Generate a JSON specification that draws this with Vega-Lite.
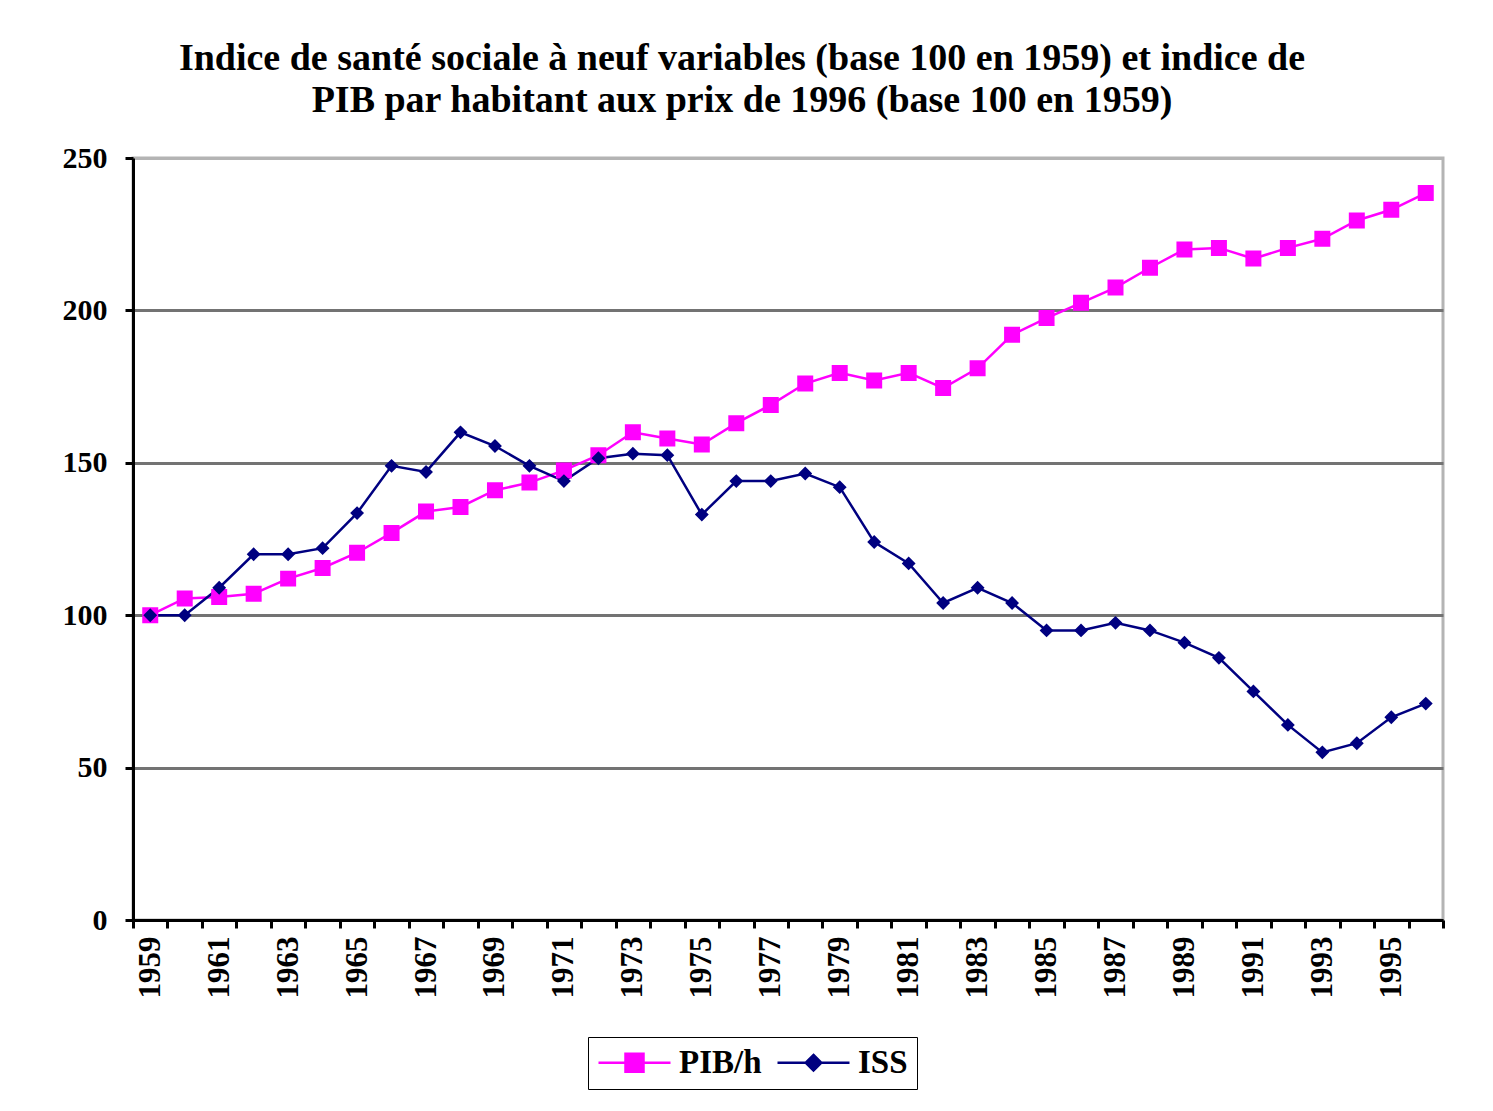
{
  "$schema": "https://vega.github.io/schema/vega-lite/v6.json",
  "width": 1310,
  "height": 762,
  "autosize": {"type": "none"},
  "padding": {"left": 133, "top": 158, "right": 50, "bottom": 191},
  "background": "white",
  "title": {
    "text": ["Indice de santé sociale à neuf variables (base 100 en 1959) et indice de", "PIB par habitant aux prix de 1996 (base 100 en 1959)"],
    "font": "Liberation Serif",
    "fontSize": 38,
    "fontWeight": "bold",
    "color": "black",
    "lineHeight": 42,
    "anchor": "middle",
    "baseline": "bottom",
    "offset": 40,
    "dx": -46,
    "dy": 55
  },
  "config": {
    "view": {"stroke": "#b4b4b4", "strokeWidth": 3},
    "axis": {
      "labelFont": "Liberation Serif",
      "labelFontWeight": "bold",
      "labelColor": "black",
      "domainColor": "black",
      "domainWidth": 3,
      "tickColor": "black",
      "tickWidth": 3,
      "tickSize": 8
    },
    "legend": {
      "orient": "none",
      "legendX": 455,
      "legendY": 879,
      "direction": "horizontal",
      "strokeColor": "black",
      "padding": 9,
      "labelFont": "Liberation Serif",
      "labelFontSize": 33,
      "labelFontWeight": "bold",
      "labelColor": "black",
      "labelOffset": 28,
      "columnPadding": 10,
      "symbolSize": 900,
      "symbolOffset": 21,
      "symbolOpacity": 1,
      "symbolStrokeWidth": 2.5
    }
  },
  "data": {"values": [
    {"year": 1959, "series": "PIB/h", "value": 100},
    {"year": 1960, "series": "PIB/h", "value": 105.5},
    {"year": 1961, "series": "PIB/h", "value": 106},
    {"year": 1962, "series": "PIB/h", "value": 107},
    {"year": 1963, "series": "PIB/h", "value": 112},
    {"year": 1964, "series": "PIB/h", "value": 115.5},
    {"year": 1965, "series": "PIB/h", "value": 120.5},
    {"year": 1966, "series": "PIB/h", "value": 127},
    {"year": 1967, "series": "PIB/h", "value": 134},
    {"year": 1968, "series": "PIB/h", "value": 135.5},
    {"year": 1969, "series": "PIB/h", "value": 141},
    {"year": 1970, "series": "PIB/h", "value": 143.5},
    {"year": 1971, "series": "PIB/h", "value": 147.5},
    {"year": 1972, "series": "PIB/h", "value": 152.5},
    {"year": 1973, "series": "PIB/h", "value": 160},
    {"year": 1974, "series": "PIB/h", "value": 158},
    {"year": 1975, "series": "PIB/h", "value": 156},
    {"year": 1976, "series": "PIB/h", "value": 163},
    {"year": 1977, "series": "PIB/h", "value": 169},
    {"year": 1978, "series": "PIB/h", "value": 176},
    {"year": 1979, "series": "PIB/h", "value": 179.5},
    {"year": 1980, "series": "PIB/h", "value": 177},
    {"year": 1981, "series": "PIB/h", "value": 179.5},
    {"year": 1982, "series": "PIB/h", "value": 174.5},
    {"year": 1983, "series": "PIB/h", "value": 181},
    {"year": 1984, "series": "PIB/h", "value": 192},
    {"year": 1985, "series": "PIB/h", "value": 197.5},
    {"year": 1986, "series": "PIB/h", "value": 202.5},
    {"year": 1987, "series": "PIB/h", "value": 207.5},
    {"year": 1988, "series": "PIB/h", "value": 214},
    {"year": 1989, "series": "PIB/h", "value": 220},
    {"year": 1990, "series": "PIB/h", "value": 220.5},
    {"year": 1991, "series": "PIB/h", "value": 217},
    {"year": 1992, "series": "PIB/h", "value": 220.5},
    {"year": 1993, "series": "PIB/h", "value": 223.5},
    {"year": 1994, "series": "PIB/h", "value": 229.5},
    {"year": 1995, "series": "PIB/h", "value": 233},
    {"year": 1996, "series": "PIB/h", "value": 238.5},
    {"year": 1959, "series": "ISS", "value": 100},
    {"year": 1960, "series": "ISS", "value": 100},
    {"year": 1961, "series": "ISS", "value": 109},
    {"year": 1962, "series": "ISS", "value": 120},
    {"year": 1963, "series": "ISS", "value": 120},
    {"year": 1964, "series": "ISS", "value": 122},
    {"year": 1965, "series": "ISS", "value": 133.5},
    {"year": 1966, "series": "ISS", "value": 149},
    {"year": 1967, "series": "ISS", "value": 147},
    {"year": 1968, "series": "ISS", "value": 160},
    {"year": 1969, "series": "ISS", "value": 155.5},
    {"year": 1970, "series": "ISS", "value": 149},
    {"year": 1971, "series": "ISS", "value": 144},
    {"year": 1972, "series": "ISS", "value": 151.5},
    {"year": 1973, "series": "ISS", "value": 153},
    {"year": 1974, "series": "ISS", "value": 152.5},
    {"year": 1975, "series": "ISS", "value": 133},
    {"year": 1976, "series": "ISS", "value": 144},
    {"year": 1977, "series": "ISS", "value": 144},
    {"year": 1978, "series": "ISS", "value": 146.5},
    {"year": 1979, "series": "ISS", "value": 142},
    {"year": 1980, "series": "ISS", "value": 124},
    {"year": 1981, "series": "ISS", "value": 117},
    {"year": 1982, "series": "ISS", "value": 104},
    {"year": 1983, "series": "ISS", "value": 109},
    {"year": 1984, "series": "ISS", "value": 104},
    {"year": 1985, "series": "ISS", "value": 95},
    {"year": 1986, "series": "ISS", "value": 95},
    {"year": 1987, "series": "ISS", "value": 97.5},
    {"year": 1988, "series": "ISS", "value": 95},
    {"year": 1989, "series": "ISS", "value": 91},
    {"year": 1990, "series": "ISS", "value": 86},
    {"year": 1991, "series": "ISS", "value": 75},
    {"year": 1992, "series": "ISS", "value": 64},
    {"year": 1993, "series": "ISS", "value": 55},
    {"year": 1994, "series": "ISS", "value": 58},
    {"year": 1995, "series": "ISS", "value": 66.5},
    {"year": 1996, "series": "ISS", "value": 71}
  ]},
  "encoding": {
    "x": {
      "field": "year",
      "type": "ordinal",
      "bandPosition": 0.5,
      "scale": {"type": "band", "paddingInner": 0, "paddingOuter": 0},
      "axis": {
        "title": null,
        "tickBand": "extent",
        "labelAngle": 270,
        "labelFontSize": 31,
        "labelPadding": 8,
        "labelExpr": "datum.value % 2 == 1 ? datum.label : ''",
        "grid": false
      }
    },
    "y": {
      "field": "value",
      "type": "quantitative",
      "scale": {"domain": [0, 250], "nice": false},
      "axis": {
        "title": null,
        "values": [0, 50, 100, 150, 200, 250],
        "labelFontSize": 30,
        "labelPadding": 18,
        "grid": true,
        "gridWidth": 3,
        "gridColor": {"condition": {"test": "datum.value == 250", "value": "#b4b4b4"}, "value": "#737373"}
      }
    },
    "color": {
      "field": "series",
      "type": "nominal",
      "scale": {"domain": ["PIB/h", "ISS"], "range": ["#ff00ff", "#000080"]},
      "legend": {"title": null}
    }
  },
  "layer": [
    {
      "mark": {"type": "line", "strokeWidth": 2.5}
    },
    {
      "mark": {"type": "point", "filled": true, "opacity": 1, "strokeWidth": 0, "size": 711},
      "encoding": {
        "shape": {
          "field": "series",
          "type": "nominal",
          "scale": {"domain": ["PIB/h", "ISS"], "range": ["M-2.4,0H2.4M-0.6,-0.6H0.6V0.6H-0.6Z", "M-2.4,0H2.4M0,-0.52L0.52,0L0,0.52L-0.52,0Z"]},
          "legend": {"title": null}
        }
      }
    }
  ]
}
